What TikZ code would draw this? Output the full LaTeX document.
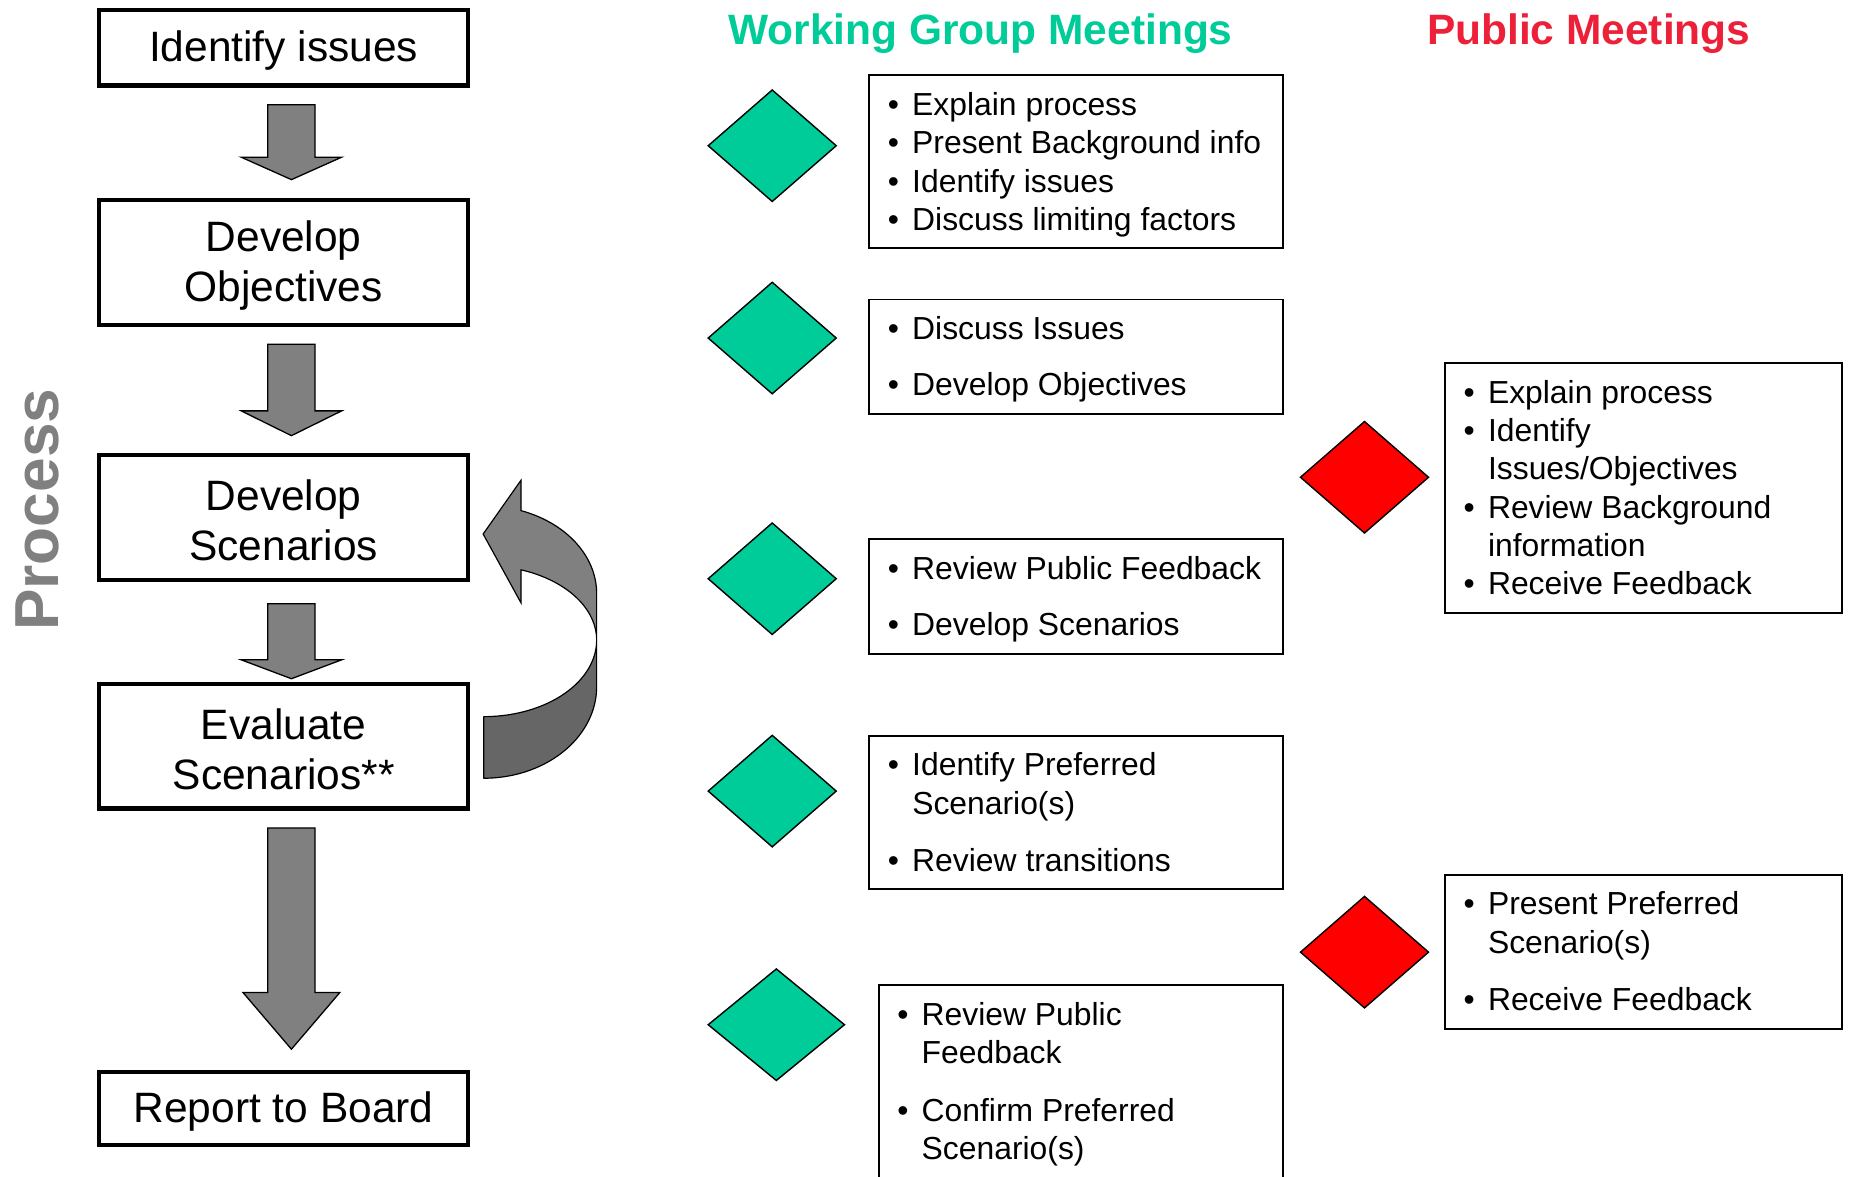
\documentclass[tikz,border=0pt]{standalone}
\usepackage{fontspec}
\setmainfont{Liberation Sans}
\usetikzlibrary{calc,shapes.geometric}
\definecolor{wg}{HTML}{00CC99}
\definecolor{pmred}{HTML}{EC2139}
\definecolor{arrowgray}{HTML}{808080}
\definecolor{backgray}{HTML}{666666}
\newcommand{\bu}{\makebox[20.7pt][l]{\textbullet}}
\newcommand{\ind}{\hspace*{20.7pt}}
\newcommand{\blockarrow}[5]{%
  \draw[barrow] ($(#1)+(-#5,0)$) -- ($(#1)+(#5,0)$) -- ($(#2)+(#5,-#3)$) -- ($(#2)+(#4,-#3)$) -- (#2)
    -- ($(#2)+(-#4,-#3)$) -- ($(#2)+(-#5,-#3)$) -- cycle;}
\begin{document}
\begin{tikzpicture}[x=1pt,y=-1pt,
  procbox/.style={draw, line width=3.5pt, minimum width=312.4pt, inner sep=0pt},
  proctext/.style={inner sep=0pt, align=center, font=\fontsize{36}{43}\selectfont},
  listbox/.style={draw, line width=1.6pt, inner sep=0pt},
  wgdiamond/.style={diamond, fill=wg, draw=black, line width=1.2pt, inner sep=0pt,
    minimum width=109pt, minimum height=95pt},
  reddiamond/.style={diamond, fill=red, draw=black, line width=1.2pt, inner sep=0pt,
    minimum width=109pt, minimum height=95pt},
  barrow/.style={fill=arrowgray, draw=black, line width=1.1pt, line join=miter},
  curvefront/.style={fill=arrowgray, draw=black, line width=1pt, line join=miter},
  curveback/.style={fill=backgray, draw=black, line width=1pt, line join=round},
  listtext/.style={anchor=west, inner sep=0pt, font=\fontsize{27}{32.5}\selectfont},
  titletext/.style={anchor=base, inner sep=0pt, font=\bfseries\fontsize{36}{43}\selectfont},
]
\clip (0,0) rectangle (1568,997);
\fill[white] (0,0) rectangle (1568,997);

% titles
\node[titletext, text=wg] (wgtitle) at (831,38) {Working Group Meetings};
\node[titletext, text=pmred] (pmtitle) at (1346.5,38) {Public Meetings};
\node[rotate=90, inner sep=0pt, text=arrowgray, font=\bfseries\fontsize{52.7}{60}\selectfont] (proc) at (32,432) {Process};

% process boxes
\node[procbox, minimum height=63.8pt] (b1) at (240.4,40.6) {};
\node[procbox, minimum height=105.5pt] (b2) at (240.4,222.5) {};
\node[procbox, minimum height=105.5pt] (b3) at (240.4,438.5) {};
\node[procbox, minimum height=105.5pt] (b4) at (240.4,632.5) {};
\node[procbox, minimum height=61.5pt] (b5) at (240.4,939.5) {};
\node[proctext] (b1t) at ($(b1)+(0,2.5)$) {Identify issues};
\node[proctext] (b2t) at ($(b2)+(0,2.5)$) {Develop\\Objectives};
\node[proctext] (b3t) at ($(b3)+(0,2.5)$) {Develop\\Scenarios};
\node[proctext] (b4t) at ($(b4)+(0,2.5)$) {Evaluate\\Scenarios**};
\node[proctext] (b5t) at ($(b5)+(0,2.5)$) {Report to Board};

% block arrows
\coordinate (a1s) at ($(b1.south)+(6.6,14.6)$);
\coordinate (a1t) at ($(b2.north)+(6.6,-15.75)$);
\coordinate (a2s) at ($(b2.south)+(6.6,14.75)$);
\coordinate (a2t) at ($(b3.north)+(6.6,-14.75)$);
\coordinate (a3s) at ($(b3.south)+(6.6,18.75)$);
\coordinate (a3t) at ($(b4.north)+(6.6,-2.75)$);
\coordinate (a4s) at ($(b4.south)+(6.6,14.75)$);
\coordinate (a4t) at ($(b5.north)+(6.6,-17.75)$);
\blockarrow{a1s}{a1t}{19}{42.5}{20}
\blockarrow{a2s}{a2t}{21}{42.5}{20}
\blockarrow{a3s}{a3t}{16}{42.5}{20}
\blockarrow{a4s}{a4t}{48}{41}{20}

% curved return arrow (Evaluate -> Develop Scenarios)
\draw[curveback] (505.7,542.5) -- (505.7,582)
  -- plot[domain=0:90, samples=40] ({410+95.7*cos(\x)},{582+77.6*sin(\x)})
  -- (410,607.4)
  -- plot[domain=90:0, samples=40] ({410+95.7*cos(\x)},{542.5+64.9*sin(\x)})
  -- cycle;
\draw[curvefront] (441.6,407) -- (409.5,452.6) -- (441.6,511) -- (441.6,483)
  -- plot[domain=-70.7:0, samples=40] ({410+95.7*cos(\x)},{542.5+63.1*sin(\x)})
  -- (505.7,503)
  -- plot[domain=0:-70.7, samples=40] ({410+95.7*cos(\x)},{503+74.4*sin(\x)})
  -- cycle;

% working group diamonds
\node[wgdiamond] (d1) at (654.5,123.5) {};
\node[wgdiamond] (d2) at (654.5,286.5) {};
\node[wgdiamond] (d3) at (654.5,490.5) {};
\node[wgdiamond] (d4) at (654.5,670.5) {};
\node[wgdiamond, minimum width=116pt] (d5) at (658,868.5) {};

% working group boxes
\node[listbox, minimum width=350.4pt, minimum height=146.4pt] (w1) at (912,137) {};
\node[listbox, minimum width=350.4pt, minimum height=97.4pt] (w2) at (912,302.5) {};
\node[listbox, minimum width=350.4pt, minimum height=97.4pt] (w3) at (912,505.5) {};
\node[listbox, minimum width=350.4pt, minimum height=129.4pt] (w4) at (912,688.5) {};
\node[listbox, minimum width=342.4pt, minimum height=175.2pt] (w5) at (916,922.4) {};

\node[listtext] (w1t) at (752.3,140) {\begin{tabular}{@{}l@{}}
\bu Explain process\\
\bu Present Background info\\
\bu Identify issues\\
\bu Discuss limiting factors
\end{tabular}};
\node[listtext] (w2t) at (752.3,305) {\begin{tabular}{@{}l@{}}
\bu Discuss Issues\\[15.5pt]
\bu Develop Objectives
\end{tabular}};
\node[listtext] (w3t) at (752.3,508.5) {\begin{tabular}{@{}l@{}}
\bu Review Public Feedback\\[15.5pt]
\bu Develop Scenarios
\end{tabular}};
\node[listtext] (w4t) at (752.3,691.5) {\begin{tabular}{@{}l@{}}
\bu Identify Preferred\\
\ind Scenario(s)\\[16pt]
\bu Review transitions
\end{tabular}};
\node[listtext] (w5t) at (760.3,919.5) {\begin{tabular}{@{}l@{}}
\bu Review Public\\
\ind Feedback\\[16pt]
\bu Confirm Preferred\\
\ind Scenario(s)
\end{tabular}};

% public meeting diamonds and boxes
\node[reddiamond] (r1) at (1156.5,404.5) {};
\node[reddiamond] (r2) at (1156.5,807) {};
\node[listbox, minimum width=336.4pt, minimum height=211.4pt] (p1) at (1393,413.5) {};
\node[listbox, minimum width=336.4pt, minimum height=130.4pt] (p2) at (1393,807) {};
\node[listtext] (p1t) at (1240.3,416.5) {\begin{tabular}{@{}l@{}}
\bu Explain process\\
\bu Identify\\
\ind Issues/Objectives\\
\bu Review Background\\
\ind information\\
\bu Receive Feedback
\end{tabular}};
\node[listtext] (p2t) at (1240.3,809.5) {\begin{tabular}{@{}l@{}}
\bu Present Preferred\\
\ind Scenario(s)\\[16pt]
\bu Receive Feedback
\end{tabular}};
\end{tikzpicture}
\end{document}
